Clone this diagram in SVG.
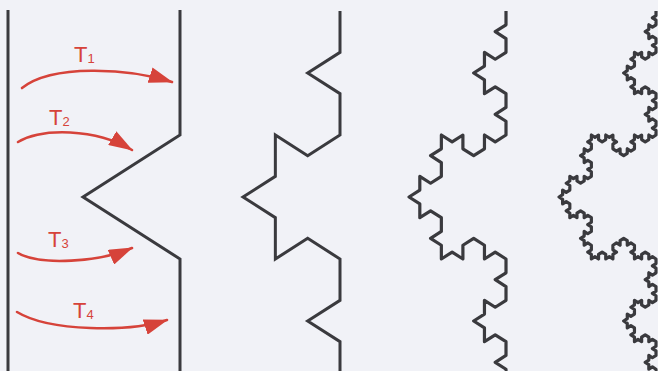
<svg xmlns="http://www.w3.org/2000/svg" width="658" height="371" viewBox="0 0 658 371">
<defs>
<style>
.wall{fill:none;stroke:#3a3a3e;stroke-width:3;stroke-linejoin:miter;stroke-linecap:butt}
.fine{stroke-width:3.2;stroke-linejoin:round}
.flow{fill:none;stroke:#d6433a;stroke-width:2.6;stroke-linecap:round}
.lbl{font-family:"Liberation Sans","DejaVu Sans",sans-serif;font-size:22px;fill:#d6433a}
.sub{font-size:13px}
</style>
<marker id="ah" viewBox="0 0 24 16" refX="23" refY="8" markerWidth="24" markerHeight="16" markerUnits="userSpaceOnUse" orient="auto">
<path d="M0,0 L24,8 L0,16 z" fill="#d6433a"/>
</marker>
</defs>
<rect width="658" height="371" fill="#f1f2f7"/>
<g id="wall-left">
<path class="wall" d="M8,10 L8,371"/>
</g>
<g id="koch1">
<path class="wall" d="M180,10 l0,125 -96.97,62 96.97,62 0,124"/>
</g>
<g id="koch2">
<path class="wall" d="M340,11 l0,41.333 -32.323,20.667 32.323,20.667 0,41.333 -32.323,20.667 -32.323,-20.667 0,41.333 -32.323,20.667 32.323,20.667 0,41.333 32.323,-20.667 32.323,20.667 0,41.333 -32.323,20.667 32.323,20.667 0,41.333"/>
</g>
<g id="koch3">
<path class="wall fine" d="M506,11 l
0,13.778 -10.774,6.889 10.774,6.889 0,13.778
-10.774,6.889 -10.774,-6.889 0,13.778 -10.774,6.889
10.774,6.889 0,13.778 10.774,-6.889 10.774,6.889
0,13.778 -10.774,6.889 10.774,6.889 0,13.778
-10.774,6.889 -10.774,-6.889 0,13.778 -10.774,6.889
-10.774,-6.889 0,-13.778 -10.774,6.889 -10.774,-6.889
0,13.778 -10.774,6.889 10.774,6.889 0,13.778
-10.774,6.889 -10.774,-6.889 0,13.778 -10.774,6.889
10.774,6.889 0,13.778 10.774,-6.889 10.774,6.889
0,13.778 -10.774,6.889 10.774,6.889 0,13.778
10.774,-6.889 10.774,6.889 0,-13.778 10.774,-6.889
10.774,6.889 0,13.778 10.774,-6.889 10.774,6.889
0,13.778 -10.774,6.889 10.774,6.889 0,13.778
-10.774,6.889 -10.774,-6.889 0,13.778 -10.774,6.889
10.774,6.889 0,13.778 10.774,-6.889 10.774,6.889
0,13.778 -10.774,6.889 10.774,6.889 0,13.778"/>
</g>
<g id="koch4">
<path class="wall fine" d="M656,11 l
0,4.593 -3.591,2.296 3.591,2.296 0,4.593
-3.591,2.296 -3.591,-2.296 0,4.593 -3.591,2.296
3.591,2.296 0,4.593 3.591,-2.296 3.591,2.296
0,4.593 -3.591,2.296 3.591,2.296 0,4.593
-3.591,2.296 -3.591,-2.296 0,4.593 -3.591,2.296
-3.591,-2.296 0,-4.593 -3.591,2.296 -3.591,-2.296
0,4.593 -3.591,2.296 3.591,2.296 0,4.593
-3.591,2.296 -3.591,-2.296 0,4.593 -3.591,2.296
3.591,2.296 0,4.593 3.591,-2.296 3.591,2.296
0,4.593 -3.591,2.296 3.591,2.296 0,4.593
3.591,-2.296 3.591,2.296 0,-4.593 3.591,-2.296
3.591,2.296 0,4.593 3.591,-2.296 3.591,2.296
0,4.593 -3.591,2.296 3.591,2.296 0,4.593
-3.591,2.296 -3.591,-2.296 0,4.593 -3.591,2.296
3.591,2.296 0,4.593 3.591,-2.296 3.591,2.296
0,4.593 -3.591,2.296 3.591,2.296 0,4.593

-3.591,2.296 -3.591,-2.296 0,4.593 -3.591,2.296
-3.591,-2.296 0,-4.593 -3.591,2.296 -3.591,-2.296
0,4.593 -3.591,2.296 3.591,2.296 0,4.593
-3.591,2.296 -3.591,-2.296 0,4.593 -3.591,2.296
-3.591,-2.296 0,-4.593 -3.591,2.296 -3.591,-2.296
0,-4.593 3.591,-2.296 -3.591,-2.296 0,-4.593
-3.591,2.296 -3.591,-2.296 0,4.593 -3.591,2.296
-3.591,-2.296 0,-4.593 -3.591,2.296 -3.591,-2.296
0,4.593 -3.591,2.296 3.591,2.296 0,4.593
-3.591,2.296 -3.591,-2.296 0,4.593 -3.591,2.296
3.591,2.296 0,4.593 3.591,-2.296 3.591,2.296
0,4.593 -3.591,2.296 3.591,2.296 0,4.593
-3.591,2.296 -3.591,-2.296 0,4.593 -3.591,2.296
-3.591,-2.296 0,-4.593 -3.591,2.296 -3.591,-2.296
0,4.593 -3.591,2.296 3.591,2.296 0,4.593
-3.591,2.296 -3.591,-2.296 0,4.593 -3.591,2.296

3.591,2.296 0,4.593 3.591,-2.296 3.591,2.296
0,4.593 -3.591,2.296 3.591,2.296 0,4.593
3.591,-2.296 3.591,2.296 0,-4.593 3.591,-2.296
3.591,2.296 0,4.593 3.591,-2.296 3.591,2.296
0,4.593 -3.591,2.296 3.591,2.296 0,4.593
-3.591,2.296 -3.591,-2.296 0,4.593 -3.591,2.296
3.591,2.296 0,4.593 3.591,-2.296 3.591,2.296
0,4.593 -3.591,2.296 3.591,2.296 0,4.593
3.591,-2.296 3.591,2.296 0,-4.593 3.591,-2.296
3.591,2.296 0,4.593 3.591,-2.296 3.591,2.296
0,-4.593 3.591,-2.296 -3.591,-2.296 0,-4.593
3.591,-2.296 3.591,2.296 0,-4.593 3.591,-2.296
3.591,2.296 0,4.593 3.591,-2.296 3.591,2.296
0,4.593 -3.591,2.296 3.591,2.296 0,4.593
3.591,-2.296 3.591,2.296 0,-4.593 3.591,-2.296
3.591,2.296 0,4.593 3.591,-2.296 3.591,2.296

0,4.593 -3.591,2.296 3.591,2.296 0,4.593
-3.591,2.296 -3.591,-2.296 0,4.593 -3.591,2.296
3.591,2.296 0,4.593 3.591,-2.296 3.591,2.296
0,4.593 -3.591,2.296 3.591,2.296 0,4.593
-3.591,2.296 -3.591,-2.296 0,4.593 -3.591,2.296
-3.591,-2.296 0,-4.593 -3.591,2.296 -3.591,-2.296
0,4.593 -3.591,2.296 3.591,2.296 0,4.593
-3.591,2.296 -3.591,-2.296 0,4.593 -3.591,2.296
3.591,2.296 0,4.593 3.591,-2.296 3.591,2.296
0,4.593 -3.591,2.296 3.591,2.296 0,4.593
3.591,-2.296 3.591,2.296 0,-4.593 3.591,-2.296
3.591,2.296 0,4.593 3.591,-2.296 3.591,2.296
0,4.593 -3.591,2.296 3.591,2.296 0,4.593
-3.591,2.296 -3.591,-2.296 0,4.593 -3.591,2.296
3.591,2.296 0,4.593 3.591,-2.296 3.591,2.296
0,4.593 -3.591,2.296 3.591,2.296 0,4.593"/>
</g>
<g id="connectors">
<g id="flow-T1">
<path class="flow" d="M22,88 C52,64 128,68 172,82" marker-end="url(#ah)"/>
<text class="lbl" x="74" y="62">T<tspan class="sub" dy="1">1</tspan></text>
</g>
<g id="flow-T2">
<path class="flow" d="M18,142 C42,128 95,128 132,150" marker-end="url(#ah)"/>
<text class="lbl" x="49" y="125">T<tspan class="sub" dy="1">2</tspan></text>
</g>
<g id="flow-T3">
<path class="flow" d="M18,253 C40,266 100,262 132,248" marker-end="url(#ah)"/>
<text class="lbl" x="48" y="247">T<tspan class="sub" dy="1">3</tspan></text>
</g>
<g id="flow-T4">
<path class="flow" d="M17,312 C50,332 130,332 167,320" marker-end="url(#ah)"/>
<text class="lbl" x="73" y="318">T<tspan class="sub" dy="1">4</tspan></text>
</g>
</g>
</svg>
